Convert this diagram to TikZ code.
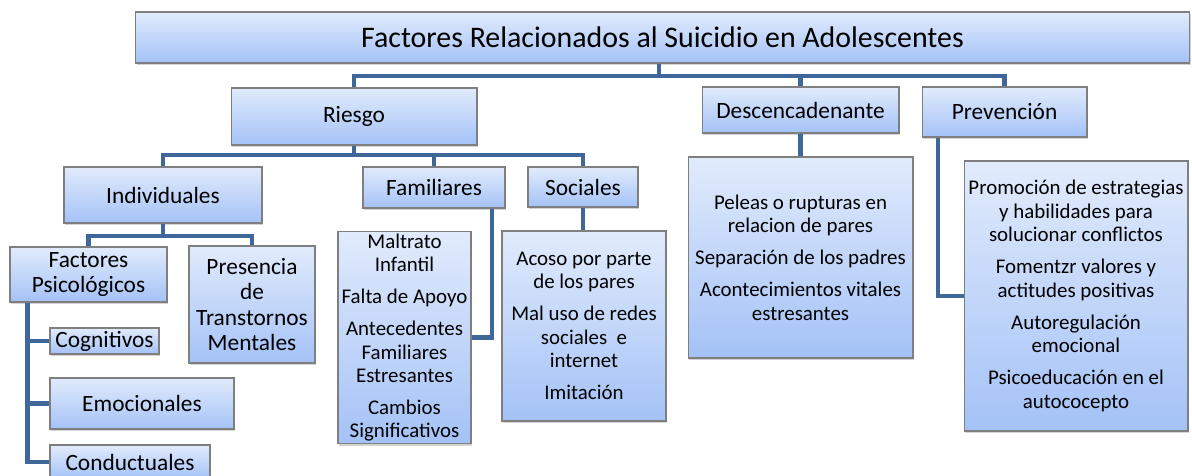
\documentclass[tikz,border=0pt]{standalone}
\usepackage{fontspec}
\setmainfont{Carlito}
\usetikzlibrary{shadows}

\definecolor{boxtop}{HTML}{E1EBFC}
\definecolor{boxbot}{HTML}{A4C2F7}
\definecolor{boxedge}{HTML}{7F7F7F}
\definecolor{linkblue}{HTML}{40679A}

\begin{document}
\begin{tikzpicture}[
    x=0.02cm, y=-0.02cm,
    box/.style={rectangle, draw=boxedge, line width=0.6pt, top color=boxtop, bottom color=boxbot,
        drop shadow={shadow xshift=0.8pt, shadow yshift=-1.4pt, opacity=0.35}, align=center, inner sep=1pt},
    title/.style={box, font=\fontsize{17}{20}\selectfont},
    cat/.style={box, font=\fontsize{13.3}{14.4}\selectfont},
    list/.style={box, font=\fontsize{11.9}{13.3}\selectfont},
    link/.style={draw=linkblue, line width=2.8pt}
]
    \useasboundingbox (0,0) rectangle (1192,476);

    % Titulo
    \node[title, minimum width=21.1cm, minimum height=1.02cm] (root) at (662.5,37.5) {Factores Relacionados al Suicidio en Adolescentes};

    % Nivel 1
    \node[cat, minimum width=4.92cm, minimum height=1.14cm] (riesgo) at (354,116.5) {Riesgo};
    \node[cat, minimum width=3.94cm, minimum height=0.92cm] (desc) at (800.5,110) {Descencadenante};
    \node[cat, minimum width=3.3cm, minimum height=1.0cm] (prev) at (1004.5,112) {Prevención};

    % Nivel 2
    \node[cat, minimum width=3.96cm, minimum height=1.12cm] (indiv) at (163,195) {Individuales};
    \node[cat, minimum width=2.84cm, minimum height=0.82cm] (famil) at (434,187.5) {Familiares};
    \node[cat, minimum width=2.2cm, minimum height=0.8cm] (social) at (583,187) {Sociales};

    % Nivel 3
    \node[cat, minimum width=3.14cm, minimum height=1.1cm] (fact) at (88.5,274.5) {Factores\\Psicológicos};
    \node[cat, minimum width=2.52cm, minimum height=2.34cm] (pres) at (252,304.5) {Presencia\\de\\Transtornos\\Mentales};
    \node[cat, minimum width=2.18cm, minimum height=0.52cm] (cognit) at (104.5,341) {Cognitivos};
    \node[cat, minimum width=3.68cm, minimum height=1.02cm] (emoc) at (142,403.5) {Emocionales};
    \node[cat, minimum width=3.2cm, minimum height=0.68cm] (conduct) at (130,462) {Conductuales};

    % Listas
    \node[list, minimum width=2.66cm, minimum height=4.22cm] (famBox) at (404.5,337.5)
        {Maltrato\\Infantil\\[5pt]Falta de Apoyo\\[5pt]Antecedentes\\Familiares\\Estresantes\\[5pt]Cambios\\Significativos};
    \node[list, minimum width=3.28cm, minimum height=3.8cm] (socBox) at (584,326)
        {Acoso por parte\\de los pares\\[5pt]Mal uso de redes\\sociales\ \ e\\internet\\[5pt]Imitación};
    \node[list, minimum width=4.5cm, minimum height=4.02cm] (descBox) at (800.5,257.5)
        {Peleas o rupturas en\\relacion de pares\\[5pt]Separación de los padres\\[5pt]Acontecimientos vitales\\estresantes};
    \node[list, minimum width=4.48cm, minimum height=5.4cm] (prevBox) at (1076,296)
        {Promoción de estrategias\\y habilidades para\\solucionar conflictos\\[5pt]Fomentzr valores y\\actitudes positivas\\[5pt]Autoregulación\\emocional\\[5pt]Psicoeducación en el\\autococepto};

    % Conectores
    \coordinate (topbar) at (659,76);
    \coordinate (midbar) at (354,155);
    \coordinate (lowbar) at (163,236);
    \coordinate (spine) at ([xshift=0.36cm]fact.south west);

    \draw[link] (topbar |- root.south) -- (topbar);
    \draw[link] (riesgo.north) |- (topbar) -| (prev.north);
    \draw[link] (desc.north) -- (desc.north |- topbar);

    \draw[link] (riesgo.south) -- (riesgo.south |- midbar);
    \draw[link] (indiv.north) |- (midbar) -| (social.north);
    \draw[link] (famil.north) -- (famil.north |- midbar);

    \draw[link] (indiv.south) -- (indiv.south |- lowbar);
    \draw[link] (fact.north) |- (lowbar) -| (pres.north);

    \draw[link] (spine) |- (conduct.west);
    \draw[link] (spine |- cognit.west) -- (cognit.west);
    \draw[link] (spine |- emoc.west) -- (emoc.west);

    \draw[link] ([xshift=1.16cm]famil.south) |- (famBox.east);
    \draw[link] (social.south) -- (social.south |- socBox.north);
    \draw[link] (desc.south) -- (desc.south |- descBox.north);
    \draw[link] ([xshift=-1.33cm]prev.south) |- (prevBox.west);
\end{tikzpicture}
\end{document}
